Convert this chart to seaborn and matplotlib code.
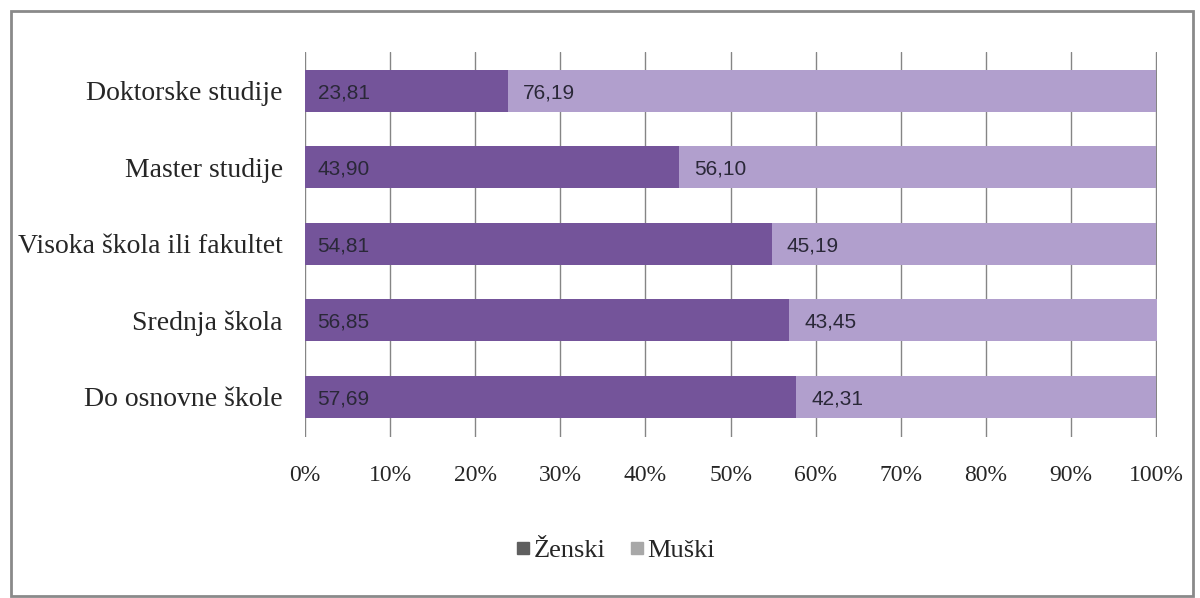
import matplotlib
matplotlib.use("Agg")
import matplotlib.pyplot as plt
from matplotlib.patches import Rectangle
from matplotlib.lines import Line2D
import pandas as pd
import seaborn as sns

###############################################################
# data
categories = ["Doktorske studije", "Master studije", "Visoka škola ili fakultet",
              "Srednja škola", "Do osnovne škole"]
zenski = [23.81, 43.90, 54.81, 56.85, 57.69]
muski = [76.19, 56.10, 45.19, 43.45, 42.31]
x_ticks = [0, 10, 20, 30, 40, 50, 60, 70, 80, 90, 100]

dark_purple = "#74549a"
light_purple = "#b19fcd"
serif = ["Liberation Serif", "DejaVu Serif"]
sans = ["Liberation Sans", "DejaVu Sans"]

sns.set_style("white")
plt.rcParams["font.family"] = serif

df = pd.DataFrame({"cat": categories, "zenski": zenski, "muski": muski})
df["total"] = df["zenski"] + df["muski"]

fig = plt.figure(figsize=(12, 5.98), dpi=100)
ax = fig.add_axes([0.2542, 0.2692, 0.71, 0.644])

# stacked bars: total first (light), women on top (dark)
sns.barplot(data=df, x="total", y="cat", color=light_purple, width=0.55,
            saturation=1, orient="h", ax=ax, zorder=2, linewidth=0)
sns.barplot(data=df, x="zenski", y="cat", color=dark_purple, width=0.55,
            saturation=1, orient="h", ax=ax, zorder=3, linewidth=0)

for i, row in df.iterrows():
    ax.annotate(f"{row['zenski']:.2f}".replace(".", ","), xy=(0, i),
                xytext=(9, 0), textcoords="offset points", va="center_baseline",
                ha="left", fontsize=15, family=sans, color="#2a2838", zorder=5)
    ax.annotate(f"{row['muski']:.2f}".replace(".", ","), xy=(row["zenski"], i),
                xytext=(11, 0), textcoords="offset points", va="center_baseline",
                ha="left", fontsize=15, family=sans, color="#2a2838", zorder=5)

ax.set_xlim(0, 100.1)
ax.set_ylim(4.53, -0.51)
ax.set_xticks(x_ticks)
ax.set_xticklabels([f"{t}%" for t in x_ticks], fontsize=17)
ax.tick_params(axis="x", length=0, pad=20)
ax.tick_params(axis="y", length=0, pad=16, labelsize=20)
ax.set_xlabel("")
ax.set_ylabel("")
ax.grid(axis="x", color="#858585", linewidth=1, zorder=0)
ax.set_axisbelow(True)
for s in ax.spines.values():
    s.set_visible(False)

handles = [
    Line2D([], [], marker="s", linestyle="", markersize=9,
           markerfacecolor="#5f5f5f", markeredgecolor="#5f5f5f"),
    Line2D([], [], marker="s", linestyle="", markersize=9,
           markerfacecolor="#a8a8a8", markeredgecolor="#a8a8a8"),
]
fig.legend(handles, ["Ženski", "Muški"], loc="center", bbox_to_anchor=(0.5125, 0.08),
           ncol=2, frameon=False, fontsize=19, handlelength=0.6, handletextpad=0.1,
           columnspacing=0.9)

# thin grey frame round the whole chart
fig.patches.append(Rectangle((0.0092, 0.0033), 0.985, 0.978, transform=fig.transFigure,
                             fill=False, edgecolor="#8a8a8a", linewidth=2))

fig.savefig("out.png", dpi=100)
